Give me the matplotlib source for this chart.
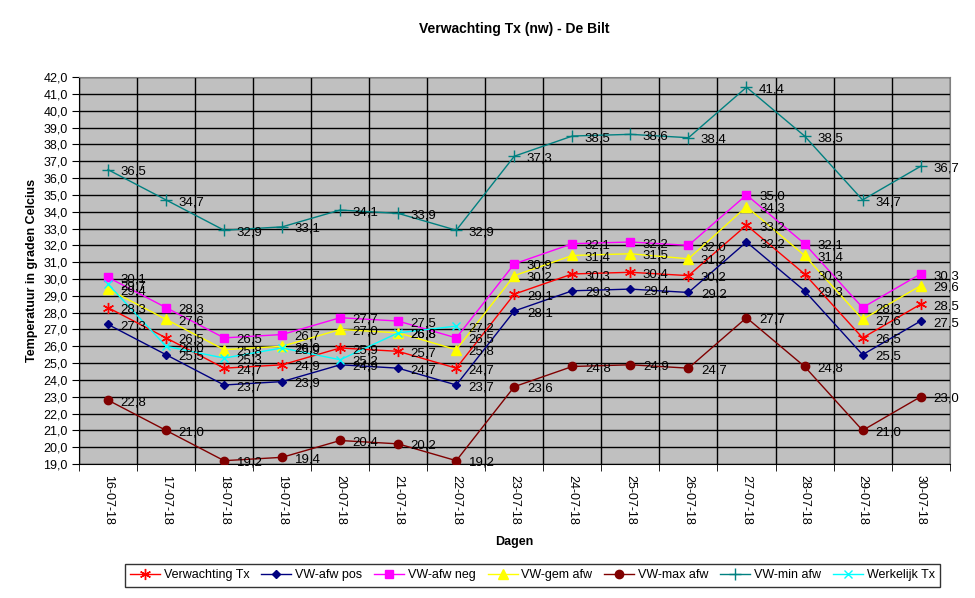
import numpy as np
import matplotlib.pyplot as plt

plt.rcParams['font.family'] = ['Liberation Sans', 'DejaVu Sans']

dagen = ['16-07-18', '17-07-18', '18-07-18', '19-07-18', '20-07-18', '21-07-18', '22-07-18',
         '23-07-18', '24-07-18', '25-07-18', '26-07-18', '27-07-18', '28-07-18', '29-07-18', '30-07-18']

verwachting_tx = [28.3, 26.5, 24.7, 24.9, 25.9, 25.7, 24.7, 29.1, 30.3, 30.4, 30.2, 33.2, 30.3, 26.5, 28.5]
vw_afw_pos = [27.3, 25.5, 23.7, 23.9, 24.9, 24.7, 23.7, 28.1, 29.3, 29.4, 29.2, 32.2, 29.3, 25.5, 27.5]
vw_afw_neg = [30.1, 28.3, 26.5, 26.7, 27.7, 27.5, 26.5, 30.9, 32.1, 32.2, 32.0, 35.0, 32.1, 28.3, 30.3]
vw_gem_afw = [29.4, 27.6, 25.8, 26.0, 27.0, 26.8, 25.8, 30.2, 31.4, 31.5, 31.2, 34.3, 31.4, 27.6, 29.6]
vw_max_afw = [22.8, 21.0, 19.2, 19.4, 20.4, 20.2, 19.2, 23.6, 24.8, 24.9, 24.7, 27.7, 24.8, 21.0, 23.0]
vw_min_afw = [36.5, 34.7, 32.9, 33.1, 34.1, 33.9, 32.9, 37.3, 38.5, 38.6, 38.4, 41.4, 38.5, 34.7, 36.7]
werkelijk_tx = [29.7, 26.0, 25.3, 25.9, 25.2, 26.8, 27.2]

series = [
    ('Verwachting Tx', verwachting_tx, '#FF0000', dict(marker=(6, 2, 0), ms=8, mew=1)),
    ('VW-afw pos', vw_afw_pos, '#000080', dict(marker='D', ms=4.5)),
    ('VW-afw neg', vw_afw_neg, '#FF00FF', dict(marker='s', ms=6)),
    ('VW-gem afw', vw_gem_afw, '#FFFF00', dict(marker='^', ms=7)),
    ('VW-max afw', vw_max_afw, '#800000', dict(marker='o', ms=6)),
    ('VW-min afw', vw_min_afw, '#008080', dict(marker='+', ms=8, mew=1)),
    ('Werkelijk Tx', werkelijk_tx, '#00FFFF', dict(marker='x', ms=6, mew=1)),
]

fig = plt.figure(figsize=(9.75, 5.98), dpi=100)
ax = fig.add_axes([0.081, 0.224, 0.893, 0.647])
ax.set_facecolor('#C0C0C0')

handles = []
for name, vals, col, mk in series:
    x = np.arange(len(vals))
    h, = ax.plot(x, vals, color=col, lw=1, label=name, mfc=col, mec=col, zorder=3, **mk)
    handles.append(h)
    for xi, v in zip(x, vals):
        ax.annotate(f'{v:.1f}'.replace('.', ','), (xi, v), xytext=(9, -1.5),
                    textcoords='offset points', va='center', ha='left',
                    fontsize=9.5, color='black', zorder=4)

ax.set_xlim(-0.5, len(dagen) - 0.5)
ax.set_ylim(19, 42)
ax.set_yticks(np.arange(19, 42.01, 1))
ax.set_yticklabels([f'{v:.1f}'.replace('.', ',') for v in np.arange(19, 42.01, 1)], fontsize=9)
ax.set_xticks(np.arange(len(dagen)))
ax.set_xticklabels(dagen, rotation=-90, fontsize=9)
ax.set_xticks(np.arange(-0.5, len(dagen), 1), minor=True)
ax.tick_params(axis='x', which='major', length=0, pad=8)
ax.tick_params(axis='x', which='minor', length=5, direction='out', color='black')
ax.tick_params(axis='y', length=5, direction='out', color='black', pad=3)

ax.grid(axis='y', which='major', color='black', lw=1, zorder=1)
ax.grid(axis='x', which='minor', color='black', lw=1, zorder=1)
ax.set_axisbelow(True)
for s in ['left', 'bottom']:
    ax.spines[s].set_color('black')
for s in ['top', 'right']:
    ax.spines[s].set_color('#808080')

ax.set_title('Verwachting Tx (nw) - De Bilt', fontsize=10, fontweight='bold', pad=32)
ax.set_ylabel('Temperatuur in graden Celcius', fontsize=9, fontweight='bold', labelpad=4)
ax.set_xlabel('Dagen', fontsize=9, fontweight='bold', labelpad=8)

leg = fig.legend(handles=handles, loc='lower center', bbox_to_anchor=(0.546, 0.008), ncol=7,
                 fontsize=9, frameon=True, fancybox=False, edgecolor='black',
                 handlelength=2.4, columnspacing=0.95, handletextpad=0.3, borderpad=0.45)
leg.get_frame().set_linewidth(1)

fig.savefig('out.png', dpi=100)
